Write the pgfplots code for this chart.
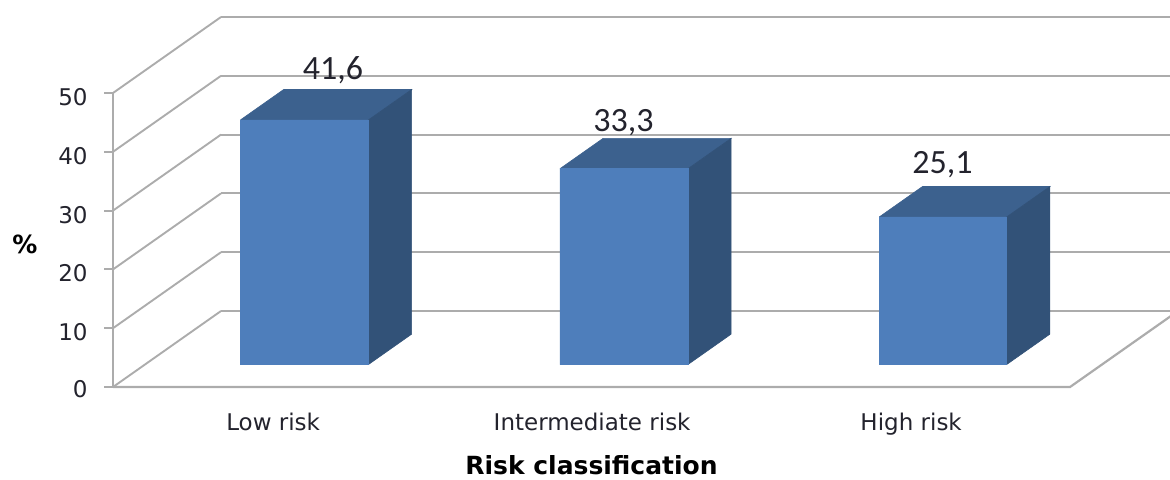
\documentclass[border=0pt]{standalone}
\usepackage{fontspec}
\setmainfont{DejaVu Sans}
\newfontfamily\valuefont{Carlito}
\usepackage{pgfplots}
\pgfplotsset{compat=1.18}
\definecolor{barfront}{RGB}{78,126,187}
\definecolor{bartop}{RGB}{60,97,142}
\definecolor{barside}{RGB}{50,82,120}
\definecolor{gridgray}{RGB}{172,172,172}
\definecolor{inktext}{RGB}{35,35,45}

% One box: left and right edge on the category axis, then the height in percent.
% Its depth runs from 0.296 to 0.696 of the floor.
\newcommand{\riskbox}[3]{%
  \addplot3[fill=bartop,draw=bartop,line width=0.3pt] coordinates
    {(#1,0.296,#3) (#2,0.296,#3) (#2,0.696,#3) (#1,0.696,#3) (#1,0.296,#3)};
  \addplot3[fill=barside,draw=barside,line width=0.3pt] coordinates
    {(#2,0.296,0) (#2,0.696,0) (#2,0.696,#3) (#2,0.296,#3) (#2,0.296,0)};
  \addplot3[fill=barfront,draw=barfront,line width=0.3pt] coordinates
    {(#1,0.296,0) (#2,0.296,0) (#2,0.296,#3) (#1,0.296,#3) (#1,0.296,0)};
}
% A short horizontal tick to the left of the vertical axis.
\newcommand{\ztickstub}[1]{%
  \addplot3[gridgray,line width=0.95pt] coordinates {(-0.028,0,#1) (0,0,#1)};
}

\begin{document}
\begin{tikzpicture}[x=1pt,y=1pt]
\path[use as bounding box] (0,0) rectangle (585,239.5);
\begin{axis}[
  at={(56.5pt,46pt)},
  anchor=origin,
  x={(159.5pt,0pt)},
  y={(54pt,38pt)},
  z={(0pt,2.94pt)},
  xmin=0,xmax=3,
  ymin=0,ymax=1,
  zmin=0,zmax=50,
  clip=false,
  xtick={0.5,1.5,2.5},
  xticklabels={Low risk,Intermediate risk,High risk},
  ytick=\empty,
  ztick={0,10,20,30,40,50},
  zmajorgrids=true,
  major grid style={gridgray,line width=0.95pt},
  axis line style={draw=none},
  x tick style={draw=none},
  z tick style={draw=none},
  tick align=outside,
  major tick length=4.5pt,
  /pgf/number format/assume math mode=true,
  tick label style={font=\fontsize{11.5}{13}\selectfont,text=inktext},
  xticklabel style={yshift=-16.5pt,xshift=4pt,anchor=center,text height=0.75em,text depth=0.22em},
  zticklabel style={xshift=-5.5pt,yshift=4pt},
  xlabel={\textbf{Risk classification}},
  xlabel style={at={(axis cs:1.5,0,0)},anchor=center,yshift=-39pt,font=\fontsize{12.5}{14}\selectfont,text=black},
  zlabel={\textbf{\%}},
  zlabel style={at={(axis cs:0,0,25)},anchor=center,rotate=-90,xshift=-44pt,yshift=-2pt,font=\fontsize{12.5}{14}\selectfont,text=black},
]
% floor outline and the vertical axis
\addplot3[gridgray,line width=1.1pt] coordinates {(0,0,0) (3,0,0) (3,1,0)};
\addplot3[gridgray,line width=1.1pt] coordinates {(0,0,0) (0,0,50)};
\ztickstub{0}\ztickstub{10}\ztickstub{20}\ztickstub{30}\ztickstub{40}\ztickstub{50}

\riskbox{0.2994}{0.7006}{41.6}
\riskbox{1.3009}{1.7022}{33.3}
\riskbox{2.3019}{2.7013}{25.1}

\node[font=\valuefont\fontsize{17}{19}\selectfont,text=inktext,xshift=3.25pt,yshift=17pt] at (axis cs:0.5,0.5,41.6) {41,6};
\node[font=\valuefont\fontsize{17}{19}\selectfont,text=inktext,xshift=-11pt,yshift=15.5pt] at (axis cs:1.5,0.5,33.3) {33,3};
\node[font=\valuefont\fontsize{17}{19}\selectfont,text=inktext,xshift=-11pt,yshift=18.5pt] at (axis cs:2.5,0.5,25.1) {25,1};
\end{axis}
\end{tikzpicture}
\end{document}
